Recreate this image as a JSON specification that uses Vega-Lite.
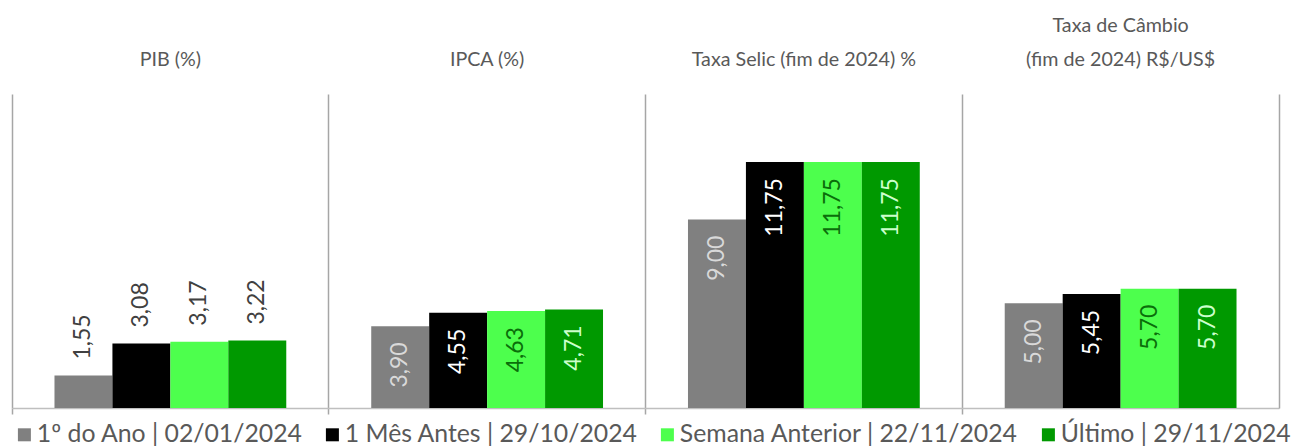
{
  "$schema": "https://vega.github.io/schema/vega-lite/v6.json",
  "width": 1267,
  "height": 314,
  "autosize": {"type": "none"},
  "padding": {"left": 12, "top": 94, "right": 15, "bottom": 38},
  "config": {
    "font": "Lato",
    "view": {"stroke": null},
    "locale": {"number": {"decimal": ",", "thousands": ".", "grouping": [3], "currency": ["R$", ""]}}
  },
  "data": {
    "values": [
      {"grupo": "PIB (%)", "serie": "1º do Ano | 02/01/2024", "valor": 1.55},
      {"grupo": "PIB (%)", "serie": "1 Mês Antes | 29/10/2024", "valor": 3.08},
      {"grupo": "PIB (%)", "serie": "Semana Anterior | 22/11/2024", "valor": 3.17},
      {"grupo": "PIB (%)", "serie": "Último | 29/11/2024", "valor": 3.22},
      {"grupo": "IPCA (%)", "serie": "1º do Ano | 02/01/2024", "valor": 3.90},
      {"grupo": "IPCA (%)", "serie": "1 Mês Antes | 29/10/2024", "valor": 4.55},
      {"grupo": "IPCA (%)", "serie": "Semana Anterior | 22/11/2024", "valor": 4.63},
      {"grupo": "IPCA (%)", "serie": "Último | 29/11/2024", "valor": 4.71},
      {"grupo": "Taxa Selic (fim de 2024) %", "serie": "1º do Ano | 02/01/2024", "valor": 9.00},
      {"grupo": "Taxa Selic (fim de 2024) %", "serie": "1 Mês Antes | 29/10/2024", "valor": 11.75},
      {"grupo": "Taxa Selic (fim de 2024) %", "serie": "Semana Anterior | 22/11/2024", "valor": 11.75},
      {"grupo": "Taxa Selic (fim de 2024) %", "serie": "Último | 29/11/2024", "valor": 11.75},
      {"grupo": "Taxa de Câmbio (fim de 2024) R$/US$", "serie": "1º do Ano | 02/01/2024", "valor": 5.00},
      {"grupo": "Taxa de Câmbio (fim de 2024) R$/US$", "serie": "1 Mês Antes | 29/10/2024", "valor": 5.45},
      {"grupo": "Taxa de Câmbio (fim de 2024) R$/US$", "serie": "Semana Anterior | 22/11/2024", "valor": 5.70},
      {"grupo": "Taxa de Câmbio (fim de 2024) R$/US$", "serie": "Último | 29/11/2024", "valor": 5.70}
    ]
  },
  "encoding": {
    "xOffset": {
      "field": "serie", "type": "nominal",
      "sort": ["1º do Ano | 02/01/2024", "1 Mês Antes | 29/10/2024", "Semana Anterior | 22/11/2024", "Último | 29/11/2024"],
      "scale": {"paddingInner": 0, "paddingOuter": 0.733}
    },
    "y": {
      "field": "valor", "type": "quantitative",
      "scale": {"domain": [0, 15], "nice": false, "zero": true},
      "axis": {"orient": "right", "labels": false, "ticks": false, "grid": false, "title": null, "domain": true, "domainColor": "#a6a6a6", "domainWidth": 1.5}
    }
  },
  "layer": [
    {
      "mark": {"type": "bar"},
      "encoding": {
        "x": {
          "field": "grupo", "type": "nominal",
          "sort": ["PIB (%)", "IPCA (%)", "Taxa Selic (fim de 2024) %", "Taxa de Câmbio (fim de 2024) R$/US$"],
          "scale": {"paddingInner": 0, "paddingOuter": 0},
          "axis": {"orient": "bottom", "bandPosition": 0, "labels": false, "title": null, "grid": true, "gridColor": "#a6a6a6", "gridWidth": 1.5, "ticks": true, "tickSize": 6, "tickColor": "#a6a6a6", "tickWidth": 1.5, "domainColor": "#bfbfbf", "domainWidth": 1.5}
        },
        "color": {
          "field": "serie", "type": "nominal",
          "sort": ["1º do Ano | 02/01/2024", "1 Mês Antes | 29/10/2024", "Semana Anterior | 22/11/2024", "Último | 29/11/2024"],
          "scale": {"domain": ["1º do Ano | 02/01/2024", "1 Mês Antes | 29/10/2024", "Semana Anterior | 22/11/2024", "Último | 29/11/2024"], "range": ["#808080", "#000000", "#4dff4d", "#009900"]},
          "legend": {"orient": "none", "legendX": 0, "legendY": 328, "direction": "horizontal", "columns": 4, "title": null, "symbolType": "square", "symbolSize": 169, "symbolStrokeWidth": 0, "labelFontSize": 24.8, "labelColor": "#595959", "labelOffset": 0, "columnPadding": 17, "padding": 0, "labelLimit": 0}
        }
      }
    },
    {
      "transform": [{"filter": "datum.grupo != 'PIB (%)'"}],
      "mark": {"type": "text", "angle": 270, "align": "right", "baseline": "middle", "dx": -16, "fontSize": 23},
      "encoding": {
        "x": {
          "field": "grupo", "type": "nominal",
          "sort": ["PIB (%)", "IPCA (%)", "Taxa Selic (fim de 2024) %", "Taxa de Câmbio (fim de 2024) R$/US$"],
          "axis": {"orient": "top", "title": null, "domain": false, "ticks": false, "grid": false, "labelPadding": 59, "labelFontSize": 19.7, "labelColor": "#595959", "labelAngle": 0, "labelLineHeight": 34, "labelLimit": 0, "labelExpr": "datum.label == 'Taxa de Câmbio (fim de 2024) R$/US$' ? ['Taxa de Câmbio', '(fim de 2024) R$/US$'] : ['', datum.label]"}
        },
        "text": {"field": "valor", "type": "quantitative", "format": ".2f"},
        "color": {
          "condition": [
            {"test": "datum.serie == '1 Mês Antes | 29/10/2024'", "value": "#ffffff"},
            {"test": "datum.serie == 'Semana Anterior | 22/11/2024'", "value": "#0a6e0a"},
            {"test": "datum.serie == 'Último | 29/11/2024'", "value": "#ccffcc"}
          ],
          "value": "#d9d9d9"
        }
      }
    },
    {
      "transform": [{"filter": "datum.grupo == 'PIB (%)'"}],
      "mark": {"type": "text", "angle": 270, "align": "left", "baseline": "middle", "dx": 16, "fontSize": 23, "color": "#404040"},
      "encoding": {
        "x": {
          "field": "grupo", "type": "nominal",
          "sort": ["PIB (%)", "IPCA (%)", "Taxa Selic (fim de 2024) %", "Taxa de Câmbio (fim de 2024) R$/US$"],
          "axis": null
        },
        "text": {"field": "valor", "type": "quantitative", "format": ".2f"}
      }
    }
  ],
  "resolve": {"axis": {"x": "independent"}}
}
